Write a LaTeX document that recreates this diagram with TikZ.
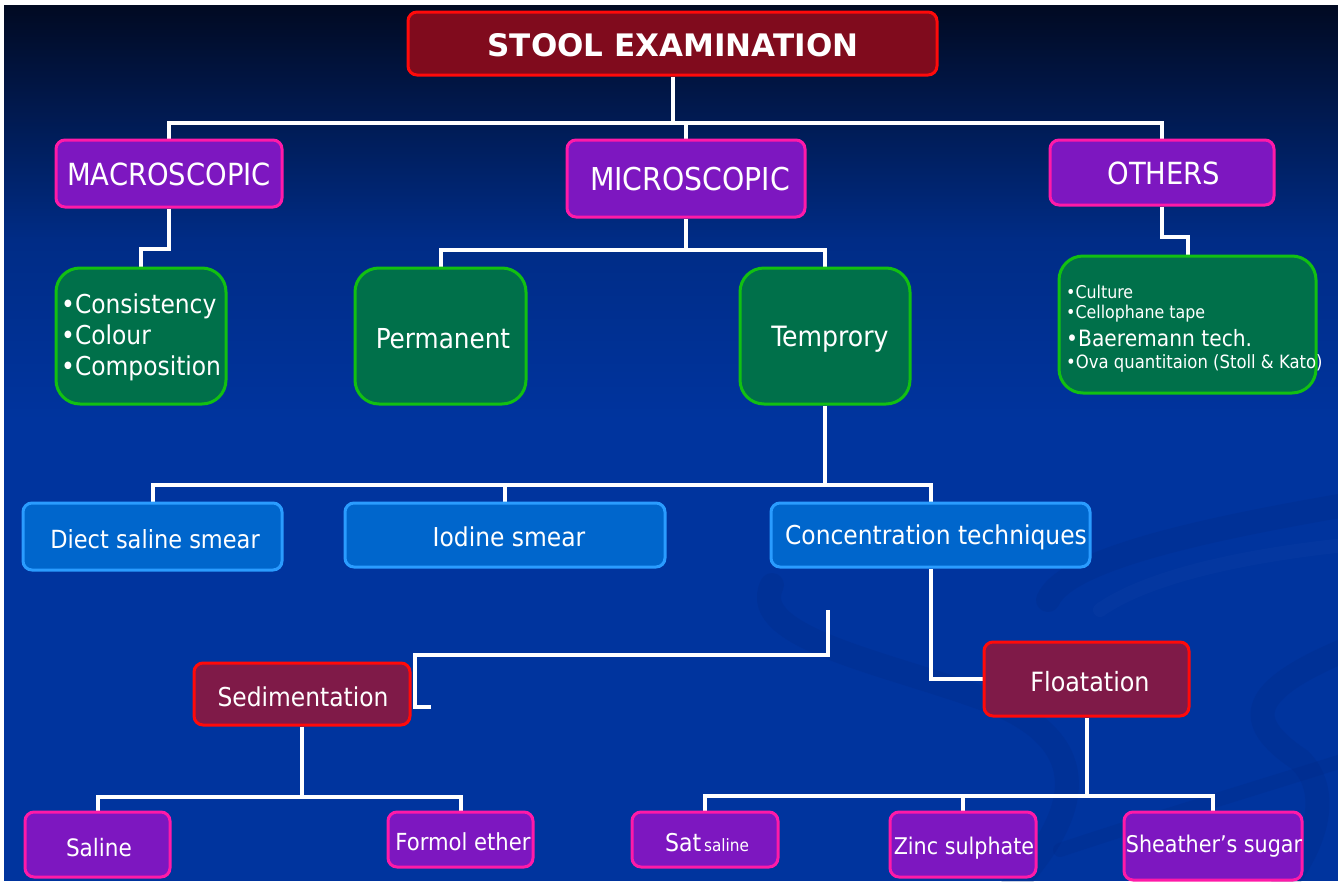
\documentclass[tikz,border=0pt]{standalone}
\usepackage{fontspec}
\setmainfont{DejaVu Sans Condensed}
\newfontfamily\titlefont{DejaVu Sans}
\usetikzlibrary{calc}
\definecolor{bgtop}{HTML}{010A22}
\definecolor{bgmid}{HTML}{002C86}
\definecolor{bgbot}{HTML}{00349E}
\definecolor{titlef}{HTML}{800B1D}
\definecolor{redd}{HTML}{FF0A0A}
\definecolor{purpf}{HTML}{7D17C0}
\definecolor{purpd}{HTML}{FF1AA8}
\definecolor{greenf}{HTML}{00704A}
\definecolor{greend}{HTML}{12C012}
\definecolor{bluef}{HTML}{0066CC}
\definecolor{blued}{HTML}{2A9CFF}
\definecolor{maroonf}{HTML}{7F1A48}
\definecolor{swd}{HTML}{00267E}
\definecolor{swl}{HTML}{1746A8}
\pgfdeclarelayer{bg}
\pgfdeclarelayer{lines}
\pgfsetlayers{bg,lines,main}
\tikzset{
  conn/.style={draw=white, line width=4pt},
  box/.style={line width=3pt, inner sep=0pt, rounded corners=9pt},
  titlebox/.style={box, fill=titlef, draw=redd},
  purplebox/.style={box, fill=purpf, draw=purpd},
  greenbox/.style={box, fill=greenf, draw=greend, rounded corners=24pt},
  bluebox/.style={box, fill=bluef, draw=blued},
  maroonbox/.style={box, fill=maroonf, draw=redd},
  txt/.style={text=white, inner sep=0pt},
  big/.style={txt, font=\fontsize{30.5}{36}\selectfont},
  mid/.style={txt, font=\fontsize{26}{31}\selectfont},
  sml/.style={txt, font=\fontsize{24}{30}\selectfont},
  tiny/.style={txt, font=\fontsize{17.6}{20}\selectfont},
  swoosh/.style={line width=24pt, line cap=round, opacity=0.2},
}
\begin{document}
\begin{tikzpicture}[x=1pt, y=-1pt]
\useasboundingbox (0,0) rectangle (1338,881);
\begin{pgfonlayer}{bg}
  \fill[white] (0,0) rectangle (1338,881);
  \shade[top color=bgtop, bottom color=bgmid] (4,5) rectangle (1338,240);
  \shade[top color=bgmid, bottom color=bgbot] (4,239) rectangle (1338,420);
  \fill[bgbot] (4,419) rectangle (1338,881);
  % faint decorative swooshes
  \begin{scope}
    \clip (4,5) rectangle (1338,881);
    \draw[swoosh, draw=swd] (772,585) .. controls (745,640) and (900,665) .. (1000,705)
       .. controls (1090,745) and (1085,810) .. (1010,890);
    \draw[swoosh, draw=swd] (1048,600) .. controls (1065,560) and (1200,530) .. (1345,505);
    \draw[swoosh, draw=swl, line width=14pt] (1100,610) .. controls (1150,575) and (1250,555) .. (1345,545);
    \draw[swoosh, draw=swd] (1345,650) .. controls (1250,690) and (1240,720) .. (1300,760)
       .. controls (1330,790) and (1320,840) .. (1280,890);
    \draw[swoosh, draw=swd, line width=14pt] (1345,760) .. controls (1250,790) and (1150,820) .. (1060,850);
  \end{scope}
\end{pgfonlayer}

% ---------- boxes ----------
\node[titlebox, minimum width=529pt, minimum height=63pt] (title) at (672.5,43.5) {};
\node[purplebox, minimum width=226pt, minimum height=67pt] (macro) at (169,173.5) {};
\node[purplebox, minimum width=238pt, minimum height=77pt] (micro) at (686,178.5) {};
\node[purplebox, minimum width=224pt, minimum height=65pt] (others) at (1162,172.5) {};
\node[greenbox, minimum width=170pt, minimum height=136pt] (consist) at (141,336) {};
\node[greenbox, minimum width=171pt, minimum height=136pt] (perm) at (440.5,336) {};
\node[greenbox, minimum width=170pt, minimum height=136pt] (temp) at (825,336) {};
\node[greenbox, minimum width=257pt, minimum height=137pt] (olist) at (1187.5,324.5) {};
\node[bluebox, minimum width=259pt, minimum height=67pt] (diect) at (152.5,536.5) {};
\node[bluebox, minimum width=320pt, minimum height=64pt] (iodine) at (505,535) {};
\node[bluebox, minimum width=319pt, minimum height=64pt] (conc) at (930.5,535) {};
\node[maroonbox, minimum width=216pt, minimum height=62pt] (sed) at (302,694) {};
\node[maroonbox, minimum width=205pt, minimum height=74pt] (float) at (1086.5,679) {};
\node[purplebox, minimum width=145pt, minimum height=65pt] (saline) at (97.5,844.5) {};
\node[purplebox, minimum width=145pt, minimum height=55pt] (formol) at (460.5,839.5) {};
\node[purplebox, minimum width=146pt, minimum height=55pt] (sat) at (705,839.5) {};
\node[purplebox, minimum width=146pt, minimum height=65pt] (zinc) at (963,844.5) {};
\node[purplebox, minimum width=178pt, minimum height=68pt] (sheath) at (1213,846) {};

% ---------- texts ----------
\node[txt, font=\titlefont\bfseries\fontsize{31}{36}\selectfont] (titlet) at (673,45) {STOOL EXAMINATION};
\node[big] (macrot) at (169,174) {MACROSCOPIC};
\node[big, font=\fontsize{31.5}{36}\selectfont] (microt) at (690,179) {MICROSCOPIC};
\node[big] (otherst) at (1164,173) {OTHERS};
\node[mid, anchor=west, align=left] (consistt) at (61,337) {•Consistency\\•Colour\\•Composition};
\node[mid, font=\fontsize{27.5}{31}\selectfont] (permt) at (443,339) {Permanent};
\node[mid, font=\fontsize{28}{31}\selectfont] (tempt) at (830,339) {Temprory};
\node[tiny, anchor=west] (o1t) at (1066,292) {•Culture};
\node[tiny, anchor=west] (o2t) at (1066,314) {•Cellophane tape};
\node[sml, font=\fontsize{22.5}{30}\selectfont, anchor=west] (o3t) at (1066,338) {•Baeremann tech.};
\node[tiny, font=\fontsize{18.3}{20}\selectfont, anchor=west] (o4t) at (1066,363) {•Ova quantitaion (Stoll \& Kato)};
\node[mid, font=\fontsize{25}{31}\selectfont] (diectt) at (155,539) {Diect saline smear};
\node[mid] (iodinet) at (509,537) {Iodine smear};
\node[mid] (conct) at (936,537) {Concentration techniques};
\node[mid] (sedt) at (303,697) {Sedimentation};
\node[mid, font=\fontsize{26.5}{31}\selectfont] (floatt) at (1090,682) {Floatation};
\node[sml] (salinet) at (99,848) {Saline};
\node[sml, font=\fontsize{23.5}{30}\selectfont] (formolt) at (463,842) {Formol ether};
\node[txt] (satt) at (707,843) {{\fontsize{24.5}{30}\selectfont Sat} {\fontsize{17}{20}\selectfont saline}};
\node[sml, font=\fontsize{23}{30}\selectfont] (zinct) at (964,848) {Zinc sulphate};
\node[sml, font=\fontsize{23}{30}\selectfont] (sheatht) at (1214,846) {Sheather’s sugar};

% ---------- connectors ----------
\coordinate (y1) at (0,123);
\coordinate (ymac) at (0,249);
\coordinate (ymic) at (0,250);
\coordinate (yoth) at (0,237);
\coordinate (ytmp) at (0,485);
\coordinate (ysed) at (0,797);
\coordinate (yflo) at (0,796);
\coordinate (f1) at (828,610);
\coordinate (f2) at (828,655);
\coordinate (f3) at (415,655);
\coordinate (f4) at (415,707);
\coordinate (f5) at (431,707);
\begin{pgfonlayer}{lines}
  \draw[conn] (title.south) -- (title.south |- y1);
  \draw[conn] (macro.north) |- (others.north |- y1) -- (others.north);
  \draw[conn] (micro.north) -- (micro.north |- y1);
  \draw[conn] (macro.south) -- (macro.south |- ymac) -| (consist.north);
  \draw[conn] (micro.south) -- (micro.south |- ymic);
  \draw[conn] (perm.north) |- (temp.north |- ymic) -- (temp.north);
  \draw[conn] (others.south) -- (others.south |- yoth) -| (olist.north);
  \draw[conn] (temp.south) -- (temp.south |- ytmp);
  \draw[conn] (diect.north) |- (conc.north |- ytmp) -- (conc.north);
  \draw[conn] (iodine.north) -- (iodine.north |- ytmp);
  \draw[conn] (conc.south) |- (float.west);
  \draw[conn] (f1) -- (f2) -- (f3) -- (f4) -- (f5);
  \draw[conn] (sed.south) -- (sed.south |- ysed);
  \draw[conn] (saline.north) |- (formol.north |- ysed) -- (formol.north);
  \draw[conn] (float.south) -- (float.south |- yflo);
  \draw[conn] (sat.north) |- (sheath.north |- yflo) -- (sheath.north);
  \draw[conn] (zinc.north) -- (zinc.north |- yflo);
\end{pgfonlayer}
\end{tikzpicture}
\end{document}
